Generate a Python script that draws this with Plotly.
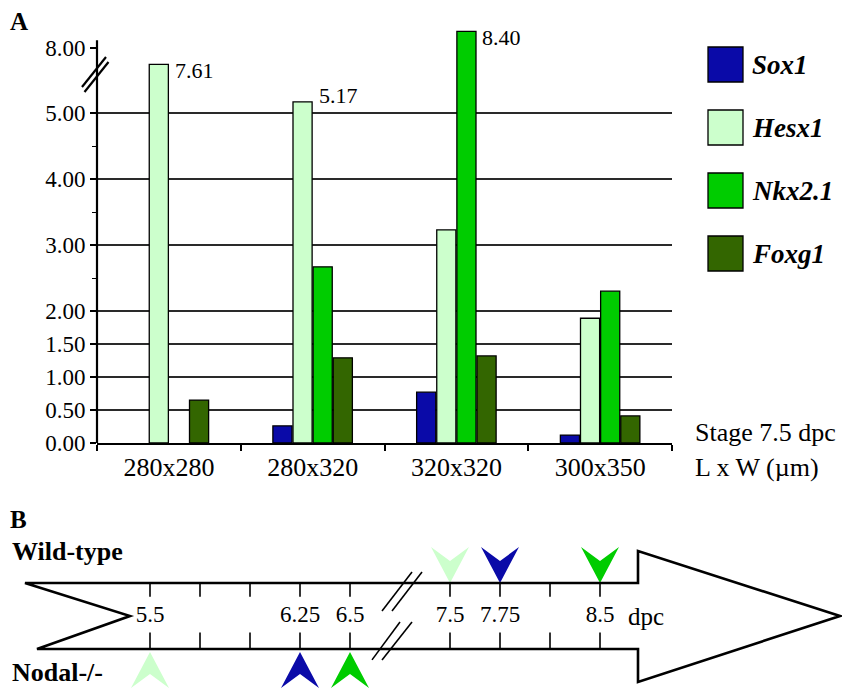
import numpy as np
import plotly.graph_objects as go

# ---------------- data ----------------
CATEGORIES = ["280x280", "280x320", "320x320", "300x350"]
SERIES = ["Sox1", "Hesx1", "Nkx2.1", "Foxg1"]
SOX1 = [0.0, 0.26, 0.77, 0.12]
HESX1 = [7.61, 5.17, 3.23, 1.89]
NKX21 = [0.0, 2.67, 8.40, 2.30]
FOXG1 = [0.65, 1.29, 1.32, 0.41]
VALUES = [SOX1, HESX1, NKX21, FOXG1]
COLORS = ["#0a0aa8", "#ccffcc", "#00cc00", "#336600"]

Y_TICKS = [0.0, 0.5, 1.0, 1.5, 2.0, 3.0, 4.0, 5.0, 8.0]
Y_TICK_TEXT = ["0.00", "0.50", "1.00", "1.50", "2.00", "3.00", "4.00", "5.00", "8.00"]
Y_MINOR = [2.5, 3.5, 4.5]

TIMELINE_DPC = [5.5, 5.75, 6.0, 6.25, 6.5, 7.5, 7.75, 8.0, 8.5]
TIMELINE_LABELS = ["5.5", "", "", "6.25", "6.5", "7.5", "7.75", "", "8.5"]
TIMELINE_BREAK_AFTER = 6.5
WT_GENES = ["Hesx1", "Sox1", "Nkx2.1"]
WT_ONSET = [7.5, 7.75, 8.5]
NODAL_GENES = ["Hesx1", "Sox1", "Nkx2.1"]
NODAL_ONSET = [5.5, 6.25, 6.5]

# ---------------- helpers ----------------
FONT = "Liberation Serif"
W, H = 842, 689          # design frame (reference pixels)
FIG_H = 702              # rendered height that the capture maps onto 689 rows
COLOR_OF = dict(zip(SERIES, COLORS))

# broken y scale: linear up to the break, compressed above it
BREAK_VAL, BREAK_DISP, BREAK_SCALE = 7.0, 5.35, 0.633


def to_display(v):
    return v if v <= BREAK_VAL else BREAK_DISP + (v - BREAK_VAL) * BREAK_SCALE


def px(x):
    return x / W


def py(y):
    return 1 - y / H


def slot(dpc):
    i = TIMELINE_DPC.index(dpc)
    return i + (1 if dpc > TIMELINE_BREAK_AFTER else 0)


fig = go.Figure()

# ---------------- panel A: bars ----------------
for name, vals, col in zip(SERIES, VALUES, COLORS):
    fig.add_trace(go.Bar(
        x=CATEGORIES, y=[to_display(v) if v > 0 else None for v in vals], name=name,
        marker=dict(color=col, line=dict(color="black", width=1.3)),
        customdata=vals, hovertemplate=name + " %{x}: %{customdata:.2f}<extra></extra>",
        xaxis="x", yaxis="y", showlegend=False,
    ))

shapes = []
annotations = []

# gridlines
for v in Y_TICKS:
    if 0 < v <= 5:
        shapes.append(dict(type="line", xref="x domain", yref="y", x0=0, x1=1,
                           y0=to_display(v), y1=to_display(v),
                           line=dict(color="#2a2a2a", width=1.8), layer="below"))
# y axis line (stops at the top label)
shapes.append(dict(type="line", xref="x domain", yref="y", x0=0, x1=0,
                   y0=0, y1=to_display(Y_TICKS[-1]) + 0.12,
                   line=dict(color="black", width=2.2)))
# axis break marks
for off in (0, 5):
    shapes.append(dict(type="line", xref="paper", yref="paper",
                       x0=px(82 + off * 0.5), y0=py(87 + off), x1=px(106 + off * 0.5), y1=py(57 + off),
                       line=dict(color="black", width=2.2)))

# value labels for bars above the 5.00 line
bar_px = 20.1
for si, (name, vals) in enumerate(zip(SERIES, VALUES)):
    for c, v in zip(CATEGORIES, vals):
        if v > 5:
            annotations.append(dict(
                x=c, y=to_display(v), xref="x", yref="y", text=f"{v:.2f}",
                showarrow=False, xanchor="left", yanchor="middle",
                xshift=(si - 1) * bar_px + 4, yshift=(-6 if v > BREAK_VAL else 6),
                font=dict(family=FONT, size=22, color="black")))

# legend (manual, large swatches)
for i, name in enumerate(SERIES):
    top = 47 + 63 * i
    shapes.append(dict(type="rect", xref="paper", yref="paper",
                       x0=px(708), x1=px(743), y0=py(top + 35), y1=py(top),
                       fillcolor=COLOR_OF[name], line=dict(color="black", width=1.3)))
    annotations.append(dict(x=px(750), y=py(top + 18), xref="paper", yref="paper",
                            text=f"<b><i>{name}</i></b>", showarrow=False,
                            xanchor="left", yanchor="middle",
                            font=dict(family=FONT, size=27, color="black")))

# captions
annotations += [
    dict(x=px(693), y=py(432), xref="paper", yref="paper", text="Stage 7.5 dpc",
         showarrow=False, xanchor="left", yanchor="middle", font=dict(family=FONT, size=26)),
    dict(x=px(693), y=py(467), xref="paper", yref="paper", text="L x W (µm)",
         showarrow=False, xanchor="left", yanchor="middle", font=dict(family=FONT, size=26)),
    dict(x=px(8), y=py(21), xref="paper", yref="paper", text="<b>A</b>",
         showarrow=False, xanchor="left", yanchor="middle", font=dict(family=FONT, size=25)),
    dict(x=px(8), y=py(519), xref="paper", yref="paper", text="<b>B</b>",
         showarrow=False, xanchor="left", yanchor="middle", font=dict(family=FONT, size=25)),
    dict(x=px(10), y=py(551), xref="paper", yref="paper", text="<b>Wild-type</b>",
         showarrow=False, xanchor="left", yanchor="middle", font=dict(family=FONT, size=26)),
    dict(x=px(10), y=py(672), xref="paper", yref="paper", text="<b>Nodal-/-</b>",
         showarrow=False, xanchor="left", yanchor="middle", font=dict(family=FONT, size=26)),
]

# ---------------- panel B: timeline ----------------
SLOT_PX, SLOT0_PX = 50.0, 150.0      # horizontal scale of the timeline
BAND_PX, BAND_MID_PX = 33.0, 616.0   # vertical scale of the timeline
x2_range = [(0 - SLOT0_PX) / SLOT_PX, (W - SLOT0_PX) / SLOT_PX]
y2_range = [(BAND_MID_PX - H) / BAND_PX, (BAND_MID_PX - 500) / BAND_PX]

# arrow outline (slot units on x2, half-band units on y2)
shapes.append(dict(type="path", xref="x2", yref="y2",
                   path="M -2.5,1 L 9.76,1 L 9.76,1.97 L 13.8,0 L 9.76,-2.0 L 9.76,-1 L -2.26,-1 L -0.4,0 Z",
                   line=dict(color="black", width=2.6), fillcolor="rgba(0,0,0,0)"))
# ticks
tx, ty = [], []
for d in TIMELINE_DPC:
    s = slot(d)
    tx += [s, s, None, s, s, None]
    ty += [1, 0.58, None, -1, -0.5, None]
fig.add_trace(go.Scatter(x=tx, y=ty, mode="lines", line=dict(color="black", width=1.6),
                         xaxis="x2", yaxis="y2", hoverinfo="skip", showlegend=False))
# tick labels
fig.add_trace(go.Scatter(x=[slot(d) for d in TIMELINE_DPC], y=[0] * len(TIMELINE_DPC),
                         mode="text", text=TIMELINE_LABELS,
                         textfont=dict(family=FONT, size=23, color="black"),
                         xaxis="x2", yaxis="y2", hoverinfo="skip", showlegend=False))
annotations.append(dict(x=slot(TIMELINE_DPC[-1]), y=0, xref="x2", yref="y2", text="dpc",
                        showarrow=False, xanchor="left", yanchor="middle", xshift=26,
                        font=dict(family=FONT, size=25, color="black")))
# break marks on the timeline
bs = 5
for (xa, ya, xb, yb) in [(-0.36, 0.15, 0.24, 1.33), (-0.16, 0.15, 0.44, 1.33),
                         (-0.56, -1.33, 0.0, -0.18), (-0.36, -1.33, 0.24, -0.18)]:
    shapes.append(dict(type="line", xref="x2", yref="y2", x0=bs + xa, y0=ya, x1=bs + xb, y1=yb,
                       line=dict(color="black", width=1.6)))


def chevron(s, tip, direction):
    hw, h, notch = 0.38, 1.09, 0.667
    return ([s, s - hw, s, s + hw, s],
            [tip, tip + direction * h, tip + direction * notch, tip + direction * h, tip])


for gene, d in zip(WT_GENES, WT_ONSET):
    cx, cy = chevron(slot(d), 1.0, 1)
    fig.add_trace(go.Scatter(x=cx, y=cy, mode="lines", fill="toself", fillcolor=COLOR_OF[gene],
                             line=dict(width=0, color=COLOR_OF[gene]), xaxis="x2", yaxis="y2",
                             name=f"{gene} (wild-type) {d} dpc", hoverinfo="name", showlegend=False))
for gene, d in zip(NODAL_GENES, NODAL_ONSET):
    cx, cy = chevron(slot(d), -1.09, -1)
    fig.add_trace(go.Scatter(x=cx, y=cy, mode="lines", fill="toself", fillcolor=COLOR_OF[gene],
                             line=dict(width=0, color=COLOR_OF[gene]), xaxis="x2", yaxis="y2",
                             name=f"{gene} (Nodal-/-) {d} dpc", hoverinfo="name", showlegend=False))

# ---------------- layout ----------------
fig.update_layout(
    width=W, height=FIG_H, margin=dict(l=0, r=0, t=0, b=0),
    paper_bgcolor="white", plot_bgcolor="white",
    font=dict(family=FONT, color="black"),
    barmode="group", bargap=0.44, bargroupgap=0.05,
    showlegend=False,
    xaxis=dict(domain=[px(97), px(672)], anchor="y", showline=True, linecolor="black",
               linewidth=2.2, ticks="outside", tickson="boundaries", ticklen=6, tickwidth=1.5,
               tickcolor="black", tickfont=dict(family=FONT, size=26), showgrid=False,
               zeroline=False, fixedrange=True),
    yaxis=dict(domain=[py(443), py(25)], anchor="x", range=[0, (443 - 25) / 66],
               tickmode="array", tickvals=[to_display(v) for v in Y_TICKS], ticktext=Y_TICK_TEXT,
               ticks="outside", ticklen=6, tickwidth=1.5, tickcolor="black",
               tickfont=dict(family=FONT, size=23), showgrid=False, zeroline=False,
               showline=False,
               minor=dict(tickmode="array", tickvals=Y_MINOR, ticks="outside", ticklen=4,
                          tickwidth=1.2, tickcolor="black", showgrid=False),
               fixedrange=True),
    xaxis2=dict(domain=[0, 1], anchor="y2", range=x2_range, visible=False, fixedrange=True),
    yaxis2=dict(domain=[0, py(500)], anchor="x2", range=y2_range, visible=False,
                fixedrange=True),
    shapes=shapes, annotations=annotations,
)

# the page's default 8px body margin would push the figure out of the window
fig.write_html("out.html", config={"displayModeBar": False},
               post_script="document.body.style.margin='0';document.body.style.overflow='hidden';")
